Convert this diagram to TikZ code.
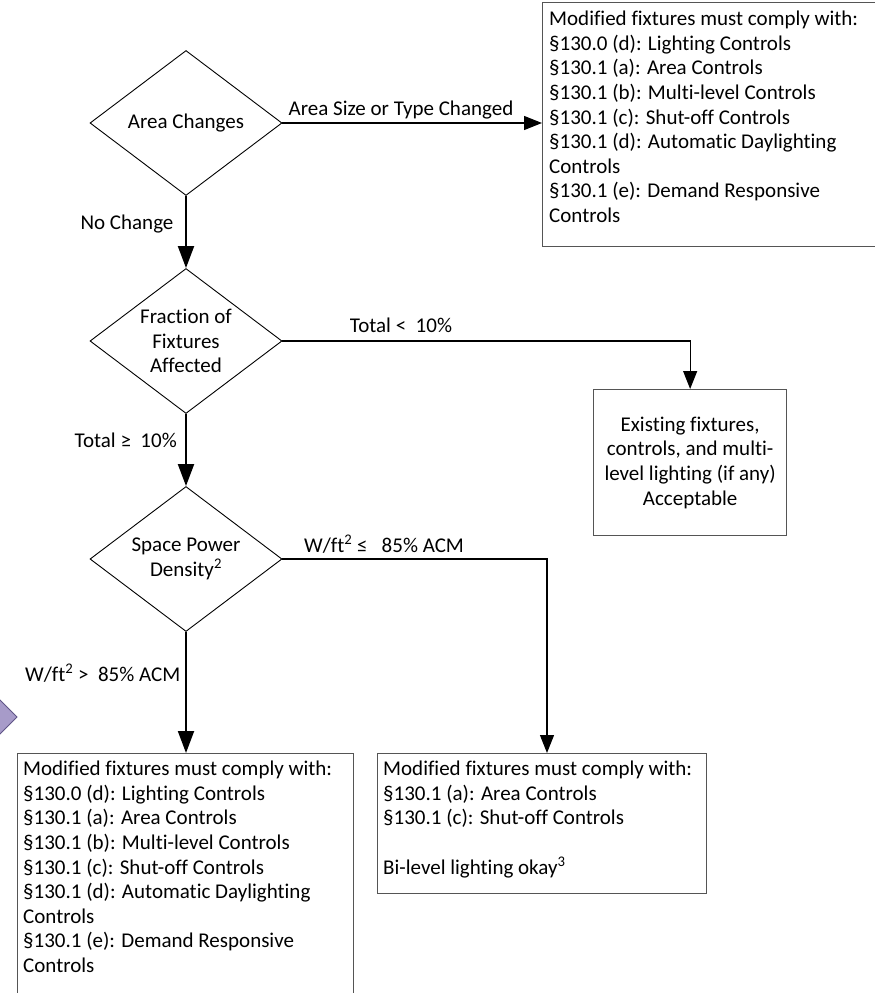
\documentclass[tikz,border=0pt]{standalone}
\usepackage{fontspec}
\setmainfont{Carlito}[Ligatures=NoCommon]
\usetikzlibrary{arrows.meta,shapes.geometric,calc}
\definecolor{boxgray}{RGB}{85,85,85}
\definecolor{lav}{RGB}{167,155,201}
\definecolor{lavdark}{RGB}{95,85,135}
\begin{document}
\begin{tikzpicture}[x=1pt,y=-1pt,
  every node/.style={font=\fontsize{21}{24.6}\selectfont},
  dia/.style={draw=black, line width=0.9pt, shape=diamond, minimum width=192pt, minimum height=145pt, inner sep=0pt},
  boxr/.style={draw=boxgray, line width=1.3pt, rectangle, inner sep=0pt, anchor=north west},
  txt/.style={align=left, inner sep=0pt, anchor=north west},
  ctxt/.style={align=center, inner sep=0pt},
  lbl/.style={inner sep=0pt},
  mainarrow/.style={line width=2pt, -{Triangle[length=22pt,width=16pt]}},
  sidearrow/.style={line width=1.1pt, -{Triangle[length=18pt,width=14pt]}},
]
\clip (0,0) rectangle (875,993);
\useasboundingbox (0,0) rectangle (875,993);

% partial purple shape at left edge
\filldraw[fill=lav, draw=lavdark, line width=0.8pt] (-5,695) -- (17,717) -- (-5,739) -- cycle;

% decisions
\node[dia] (d1) at (186,123) {};
\node[ctxt] (t1) at (d1) {Area Changes};
\node[dia] (d2) at (186,341) {};
\node[ctxt] (t2) at (d2) {Fraction of\\Fixtures\\Affected};
\node[dia] (d3) at (186,559) {};
\node[ctxt] (t3) at (d3) {Space Power\\Density\textsuperscript{2}};

% boxes
\node[boxr, minimum width=345pt, minimum height=244pt] (r1) at (542,2) {};
\node[txt] (tr1) at (549,11) {Modified fixtures must comply with:\\
§130.0 (d): Lighting Controls\\
§130.1 (a): Area Controls\\
§130.1 (b): Multi-level Controls\\
§130.1 (c): Shut-off Controls\\
§130.1 (d): Automatic Daylighting\\
Controls\\
§130.1 (e): Demand Responsive\\
Controls};

\node[boxr, minimum width=193pt, minimum height=146pt] (r2) at (593,389) {};
\node[ctxt] (tr2) at (r2) {Existing fixtures,\\controls, and multi-\\level lighting (if any)\\Acceptable};

\node[boxr, minimum width=336pt, minimum height=260pt] (r3) at (17,753) {};
\node[txt] (tr3) at (23,761) {Modified fixtures must comply with:\\
§130.0 (d): Lighting Controls\\
§130.1 (a): Area Controls\\
§130.1 (b): Multi-level Controls\\
§130.1 (c): Shut-off Controls\\
§130.1 (d): Automatic Daylighting\\
Controls\\
§130.1 (e): Demand Responsive\\
Controls};

\node[boxr, minimum width=329pt, minimum height=140pt] (r4) at (377,753) {};
\node[txt] (tr4) at (383,761) {Modified fixtures must comply with:\\
§130.1 (a): Area Controls\\
§130.1 (c): Shut-off Controls\\[24.6pt]
Bi-level lighting okay\textsuperscript{3}};
\coordinate (c4) at ($(r4.north west)+(170,0)$);

% labels
\node[lbl] (l1) at (401,110) {Area Size or Type Changed};
\node[lbl] (l2) at (127,224) {No Change};
\node[lbl] (l3) at (401,325) {Total <\ \ 10\%};
\node[lbl, anchor=east] (l4) at (177,440) {Total ≥\ \ 10\%};
\node[lbl] (l5) at (384,544) {W/ft\textsuperscript{2} ≤\ \ \ 85\% ACM};
\node[lbl, anchor=west] (l6) at (25,673) {W/ft\textsuperscript{2} >\ \ 85\% ACM};

% connectors
\draw[sidearrow] (d1.east) -- (d1.east -| r1.west);
\draw[mainarrow] (d1.south) -- (d2.north);
\draw[sidearrow] (d2.east) -| (r2.north);
\draw[mainarrow] (d2.south) -- (d3.north);
\draw[sidearrow] (d3.east) -| (c4);
\draw[mainarrow] (d3.south) -- (d3.south |- r3.north);
\end{tikzpicture}
\end{document}
